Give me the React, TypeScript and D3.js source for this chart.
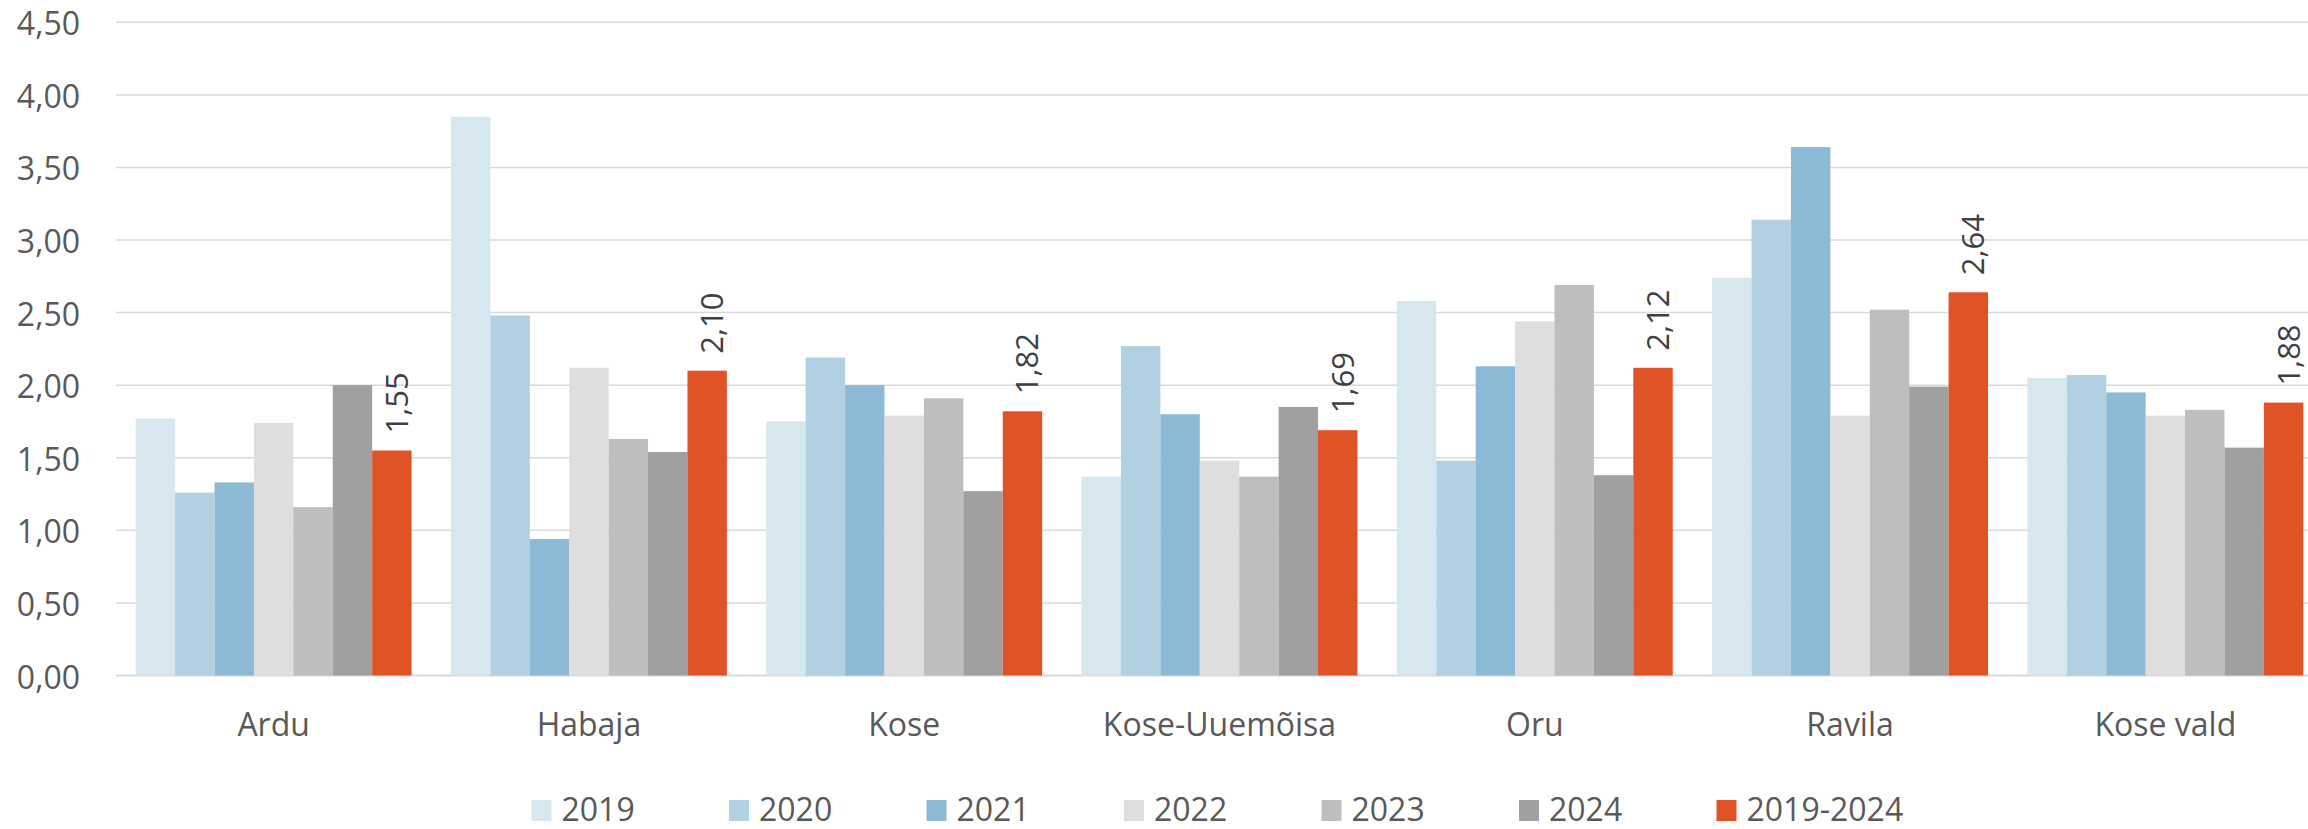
import React from "react";
import * as d3 from "d3";

const categories = ["Ardu", "Habaja", "Kose", "Kose-Uuemõisa", "Oru", "Ravila", "Kose vald"];
const seriesNames = ["2019", "2020", "2021", "2022", "2023", "2024", "2019-2024"];
const v2019 = [1.77, 3.85, 1.75, 1.37, 2.58, 2.74, 2.05];
const v2020 = [1.26, 2.48, 2.19, 2.27, 1.48, 3.14, 2.07];
const v2021 = [1.33, 0.94, 2.0, 1.8, 2.13, 3.64, 1.95];
const v2022 = [1.74, 2.12, 1.79, 1.48, 2.44, 1.79, 1.79];
const v2023 = [1.16, 1.63, 1.91, 1.37, 2.69, 2.52, 1.83];
const v2024 = [2.0, 1.54, 1.27, 1.85, 1.38, 1.99, 1.57];
const vAvg = [1.55, 2.1, 1.82, 1.69, 2.12, 2.64, 1.88];
const yTicks = [0, 0.5, 1, 1.5, 2, 2.5, 3, 3.5, 4, 4.5];
const colors = ["#d6e7f0", "#b1d0e2", "#8cb9d5", "#dedede", "#bebebe", "#a0a0a0", "#e05327"];

const seriesValues = [v2019, v2020, v2021, v2022, v2023, v2024, vAvg];

const W = 2308;
const H = 829;
const FONT = "'Open Sans', sans-serif";

export default function App() {
  const x0 = d3
    .scaleBand<string>()
    .domain(categories)
    .range([116, 2323])
    .paddingInner(0.125)
    .paddingOuter(0.0625);
  const x1 = d3
    .scaleBand<string>()
    .domain(seriesNames)
    .range([0, x0.bandwidth()])
    .padding(0);
  const y = d3.scaleLinear().domain([0, 4.5]).range([675.5, 22.3]);
  const fmt = (v: number) => d3.format(".2f")(v).replace(".", ",");

  const legendStart = 531.5;
  const legendStep = 197.5;

  return (
    <svg
      width={W}
      height={H}
      style={{ position: "absolute", left: 0, top: 0, background: "#fff" }}
      fontFamily={FONT}
    >
      <rect x={0} y={0} width={W} height={H} fill="#fff" />
      {yTicks.map((t) => (
        <g key={t}>
          <line
            x1={116}
            x2={2323}
            y1={y(t)}
            y2={y(t)}
            stroke="#d9d9d9"
            strokeWidth={t === 0 ? 2 : 1.5}
          />
          <text x={80} y={y(t) + 13} textAnchor="end" fontSize={32} fill="#595959">
            {fmt(t)}
          </text>
        </g>
      ))}
      {categories.map((c, ci) => (
        <g key={c} transform={`translate(${x0(c)},0)`}>
          {seriesNames.map((s, si) => {
            const v = seriesValues[si][ci];
            return (
              <rect
                key={s}
                x={x1(s)}
                y={y(v)}
                width={x1.bandwidth()}
                height={y(0) - y(v)}
                fill={colors[si]}
              />
            );
          })}
        </g>
      ))}
      {categories.map((c, ci) => {
        const v = vAvg[ci];
        const cx = (x0(c) as number) + (x1("2019-2024") as number) + x1.bandwidth() / 2;
        return (
          <text
            key={"lbl" + c}
            transform={`translate(${cx + 4},${y(v) - 17}) rotate(-90)`}
            dominantBaseline="central"
            fontSize={31}
            fill="#404040"
          >
            {fmt(v)}
          </text>
        );
      })}
      {categories.map((c) => (
        <text
          key={"cat" + c}
          x={(x0(c) as number) + x0.bandwidth() / 2}
          y={736}
          textAnchor="middle"
          fontSize={32}
          fill="#595959"
        >
          {c}
        </text>
      ))}
      {seriesNames.map((s, si) => {
        const lx = legendStart + si * legendStep;
        return (
          <g key={"leg" + s}>
            <rect x={lx} y={800} width={20} height={21} fill={colors[si]} />
            <text x={lx + 30} y={821} fontSize={32} fill="#595959">
              {s}
            </text>
          </g>
        );
      })}
    </svg>
  );
}
